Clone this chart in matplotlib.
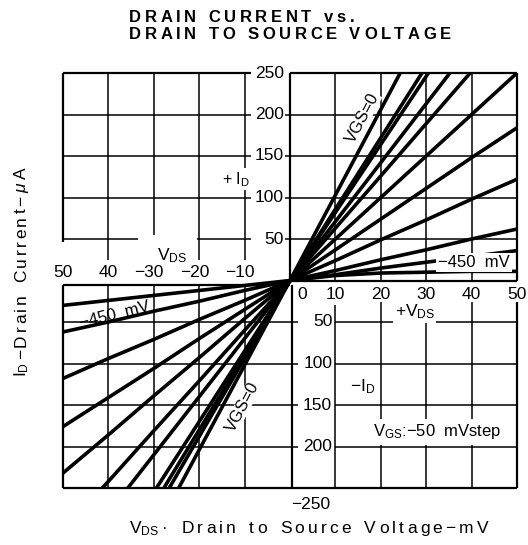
import matplotlib
matplotlib.use("Agg")
import matplotlib.pyplot as plt

plt.rcParams['font.family'] = ['Liberation Sans', 'DejaVu Sans']
plt.rcParams['mathtext.fontset'] = 'custom'
plt.rcParams['mathtext.rm'] = 'Liberation Sans'
plt.rcParams['mathtext.it'] = 'Liberation Sans:italic'

# ---------------- data ----------------
vgs_labels = ["0", "-50", "-100", "-150", "-200", "-250", "-300", "-350", "-400", "-450", "-500"]

vds_pos = [0, 10, 20, 30, 40, 50]          # mV
id_pos_0 = [0, 103, 206, 309, 412, 515]    # uA
id_pos_50 = [0, 86, 172, 258, 344, 430]
id_pos_100 = [0, 82, 164, 246, 328, 410]
id_pos_150 = [0, 71, 142, 213, 284, 355]
id_pos_200 = [0, 63, 126, 189, 252, 315]
id_pos_250 = [0, 50, 100, 150, 200, 250]
id_pos_300 = [0, 37, 74, 111, 148, 184]
id_pos_350 = [0, 24, 49, 73, 98, 122]
id_pos_400 = [0, 12, 25, 37, 50, 62]
id_pos_450 = [0, 7, 15, 22, 29, 36]
id_pos_500 = [0, 6, 9, 10, 11, 11]

vds_neg = [0, -10, -20, -30, -40, -50]
id_neg_0 = [0, -102, -204, -306, -408, -510]
id_neg_50 = [0, -94, -188, -282, -376, -470]
id_neg_100 = [0, -90, -180, -270, -360, -450]
id_neg_150 = [0, -85, -170, -255, -340, -425]
id_neg_200 = [0, -70, -140, -210, -280, -350]
id_neg_250 = [0, -60, -121, -181, -242, -302]
id_neg_300 = [0, -46, -93, -139, -186, -232]
id_neg_350 = [0, -35, -70, -106, -141, -176]
id_neg_400 = [0, -24, -47, -71, -94, -118]
id_neg_450 = [0, -12, -25, -37, -50, -62]
id_neg_500 = [0, -6, -12, -18, -24, -30]

pos_curves = [id_pos_0, id_pos_50, id_pos_100, id_pos_150, id_pos_200, id_pos_250,
              id_pos_300, id_pos_350, id_pos_400, id_pos_450, id_pos_500]
neg_curves = [id_neg_0, id_neg_50, id_neg_100, id_neg_150, id_neg_200, id_neg_250,
              id_neg_300, id_neg_350, id_neg_400, id_neg_450, id_neg_500]

upper_yticks = [250, 200, 150, 100, 50]
lower_yticks = [50, 100, 150, 200]
neg_xticks = [-50, -40, -30, -20, -10]
neg_xticklabels = ["50", "40", "\u221230", "\u221220", "\u221210"]
pos_xticks = [0, 10, 20, 30, 40, 50]

title_line1 = "DRAIN CURRENT vs."
title_line2 = "DRAIN TO SOURCE VOLTAGE"
xlabel_tokens = [r"V$_{\rm DS}$", "\u00b7", " "] + list("Drain to Source Voltage\u2212mV")
ylabel_tokens = [r"I$_{\rm D}$", "\u2212"] + list("Drain Current\u2212") + [r"$\mu$", "A"]

# ---------------- figure ----------------
W, H, DPI = 528, 545, 100
fig = plt.figure(figsize=(W / DPI, H / DPI), dpi=DPI)
ax = fig.add_axes([63 / W, 57 / H, 454 / W, 415 / H])
ax.set_xlim(-50, 50)
ax.set_ylim(-250, 250)
ax.axis('off')
renderer = fig.canvas.get_renderer()

glw = 1.1
flw = 1.6

def seg(x0, x1, y0, y1, lw=glw):
    ax.plot([x0, x1], [y0, y1], color='black', lw=lw, clip_on=False,
            solid_capstyle='butt', zorder=2)

def spaced(tokens, x0, ybase, spacing, space_px, **kw):
    x = x0
    for tok in tokens:
        if tok == " ":
            x += space_px
            continue
        t = fig.text(x / W, 1 - ybase / H, tok, ha='left', va='baseline', **kw)
        x += t.get_window_extent(renderer).width + spacing
    return x

def spaced_vertical(tokens, xbase, y0, spacing, space_px, **kw):
    # text reading bottom-to-top; xbase = baseline pixel column, y0 = start (pixels from top)
    y = y0
    for tok in tokens:
        if tok == " ":
            y -= space_px
            continue
        t = fig.text(xbase / W, 1 - y / H, tok, ha='left', va='baseline',
                     rotation=90, rotation_mode='anchor', **kw)
        y -= t.get_window_extent(renderer).height + spacing
    return y

# upper-left panel
seg(-50, -8.5, 250, 250, flw)
seg(-50, -50, 250, 46, flw)
for y in [200, 150, 100]:
    seg(-50, -8.5, y, y)
seg(-50, -33.5, 50, 50)
seg(-20.5, -8.5, 50, 50)
for x in [-40, -20, -10]:
    seg(x, x, 250, 25)
seg(-30, -30, 250, 55)

# upper-right panel
seg(0, 50, 250, 250, flw)
seg(0, 50, 0, 0, flw)
seg(0, 0, 0, 250, flw)
seg(50, 50, 0, 250, flw)
for x in [10, 20, 30, 40]:
    seg(x, x, 0, 250)
for y in [200, 150, 100, 50]:
    seg(-1.2, 50, y, y)

# lower-left panel
seg(-50, 0, -5, -5, flw)
seg(-50, -50, -5, -250, flw)
seg(0.5, 0.5, -5, -250, flw)
for x in [-40, -30, -20, -10]:
    seg(x, x, -5, -250)
for y in [-50, -100, -150, -200]:
    seg(-50, 1.8, y, y)

# lower-right panel
seg(-50, 50, -250, -250, flw)
seg(10, 10, -30, -250)
for x in [20, 30, 40]:
    seg(x, x, -26, -250)
seg(50, 50, -26, -250, flw)
for y in [-50, -100, -150, -200]:
    seg(10, 50, y, y)

# curves
for ys in pos_curves:
    ax.plot(vds_pos, ys, color='black', lw=2.6, solid_capstyle='round', zorder=3)
for ys in neg_curves:
    ax.plot(vds_neg, ys, color='black', lw=2.6, solid_capstyle='round', zorder=3)

# tick labels
tfs = 12.5
for v in upper_yticks:
    ax.text(-1.3, v, str(v), ha='right', va='center', fontsize=tfs, zorder=4)
for v in lower_yticks:
    ax.text(9.3, -v, str(v), ha='right', va='center', fontsize=tfs, zorder=4,
            bbox=dict(facecolor='white', edgecolor='none', pad=0.5))
ax.text(4.5, -270, "\u2212250", ha='center', va='center', fontsize=tfs, clip_on=False)
for x, lab in zip(neg_xticks, neg_xticklabels):
    off = -1.0 if lab.startswith("\u2212") else 0.0
    ax.text(x + off, 10, lab, ha='center', va='center', fontsize=tfs, zorder=4)
for x in pos_xticks:
    xx = 2.6 if x == 0 else x
    ax.text(xx, -16.5, str(x), ha='center', va='center', fontsize=tfs, zorder=4,
            clip_on=False)

wb = dict(facecolor='white', edgecolor='none', pad=1.0)
ax.text(-26, 30, r"V$_{\rm DS}$", ha='center', va='center', fontsize=12.5, zorder=4)
ax.text(-12, 122, r"+ I$_{\rm D}$", ha='center', va='center', fontsize=11.5, zorder=4, bbox=wb)
ax.text(27.5, -38, r"+V$_{\rm DS}$", ha='center', va='center', fontsize=12.5, zorder=4, bbox=wb)
ax.text(16, -128, r"$-$I$_{\rm D}$", ha='center', va='center', fontsize=12.5, zorder=4, bbox=wb)
ax.text(32.5, -182, r"V$_{\rm GS}$:$-$50  mVstep", ha='center', va='center', fontsize=12,
        zorder=4, bbox=dict(facecolor='white', edgecolor='none', pad=2.5))
ax.text(40.5, 22, "\u2212450  mV", ha='center', va='center', fontsize=12, zorder=4,
        bbox=dict(facecolor='white', edgecolor='none', pad=1.5))
ax.text(-38.5, -41, "\u2212450  mV", ha='center', va='center', fontsize=12, zorder=4,
        rotation=14, rotation_mode='anchor')
ax.text(16, 196, "VGS=0", ha='center', va='center', fontsize=12, rotation=62,
        rotation_mode='anchor', zorder=4, bbox=dict(facecolor='white', edgecolor='none', pad=0.3))
ax.text(-10.5, -152, "VGS=0", ha='center', va='center', fontsize=12, rotation=62,
        rotation_mode='anchor', zorder=4, bbox=dict(facecolor='white', edgecolor='none', pad=0.3))

# titles / axis labels
spaced(list(title_line1), 129, 22, 3.6, 9, fontsize=12, fontweight='bold')
spaced(list(title_line2), 129, 39, 3.6, 9, fontsize=12, fontweight='bold')
spaced(xlabel_tokens, 129, 533, 3.2, 10, fontsize=12.5)
spaced_vertical(ylabel_tokens, 26, 377, 2.6, 10, fontsize=12.5)

fig.savefig("out.png", dpi=DPI, facecolor='white')
